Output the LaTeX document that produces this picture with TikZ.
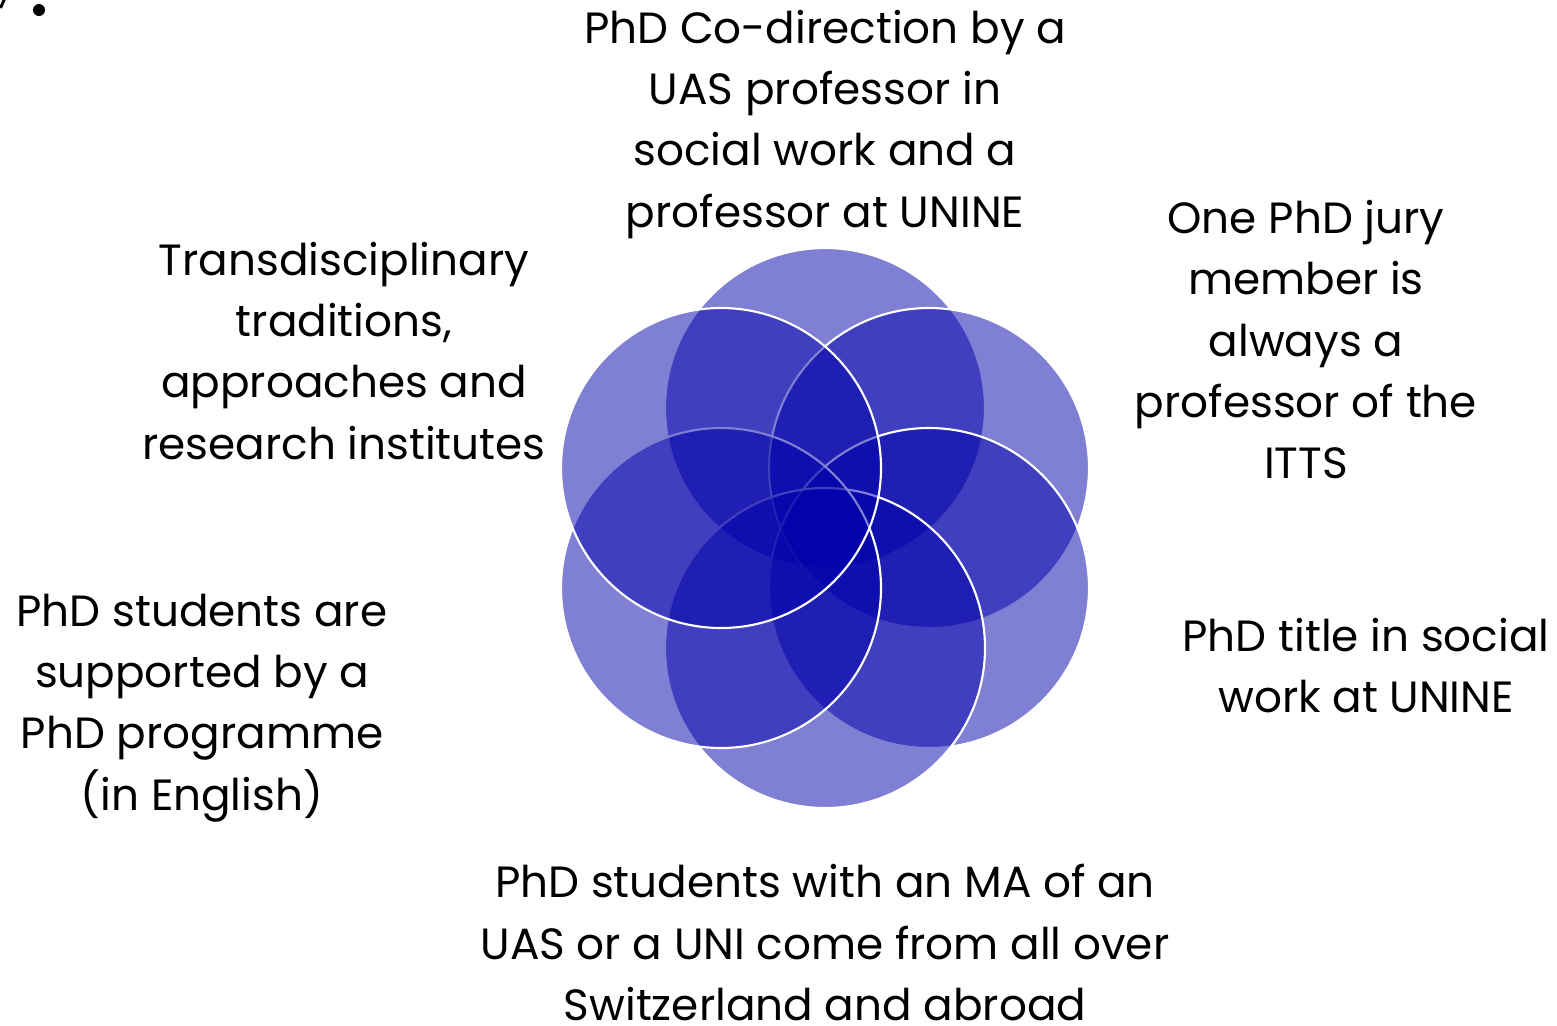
\documentclass[tikz,border=0pt]{standalone}
\usepackage{fontspec}
\setmainfont{Poppins}
\definecolor{petalblue}{RGB}{0,0,170}
\begin{document}
\begin{tikzpicture}[x=0.75pt,y=-0.75pt,
  petal/.style={circle, minimum size=240pt, inner sep=0pt, outer sep=0pt,
    fill=petalblue, fill opacity=0.5, draw=white, draw opacity=1, line width=1.6pt},
  lbl/.style={align=center, inner sep=0pt, text=black,
    font=\fontsize{32.8}{46}\selectfont}]
\useasboundingbox (0,0) rectangle (1557,1025);
% petals, drawn clockwise from the top
\node[petal] (ptop) at (825,408) {};
\node[petal] (pur)  at (929,468) {};
\node[petal] (plr)  at (929,588) {};
\node[petal] (pbot) at (825,648) {};
\node[petal] (pll)  at (721,588) {};
\node[petal] (pul)  at (721,468) {};
% labels
\node[lbl] (ttop) at (825,123) {\strut PhD Co-direction by a\\UAS professor in\\social work and a\\professor at UNINE\strut};
\node[lbl] (tur) at (1306,344) {\strut One PhD jury\\member is\\always a\\professor of the\\ITTS\strut};
\node[lbl] (tr) at (1366,670) {\strut PhD title in social\\work at UNINE\strut};
\node[lbl] (tbot) at (825,947) {\strut PhD students with an MA of an\\UAS or a UNI come from all over\\Switzerland and abroad\strut};
\node[lbl] (tll) at (202,706) {\strut PhD students are\\supported by a\\PhD programme\\(in English)\strut};
\node[lbl] (tul) at (344,355) {\strut Transdisciplinary\\traditions,\\approaches and\\research institutes\strut};
% corner marks
\fill[black] (39,10) circle (4.5pt);
\coordinate (fragA) at (0.5,8);
\coordinate (fragB) at (4.5,-1);
\draw[black, line width=2.2pt] (fragA) -- (fragB);
\end{tikzpicture}
\end{document}
